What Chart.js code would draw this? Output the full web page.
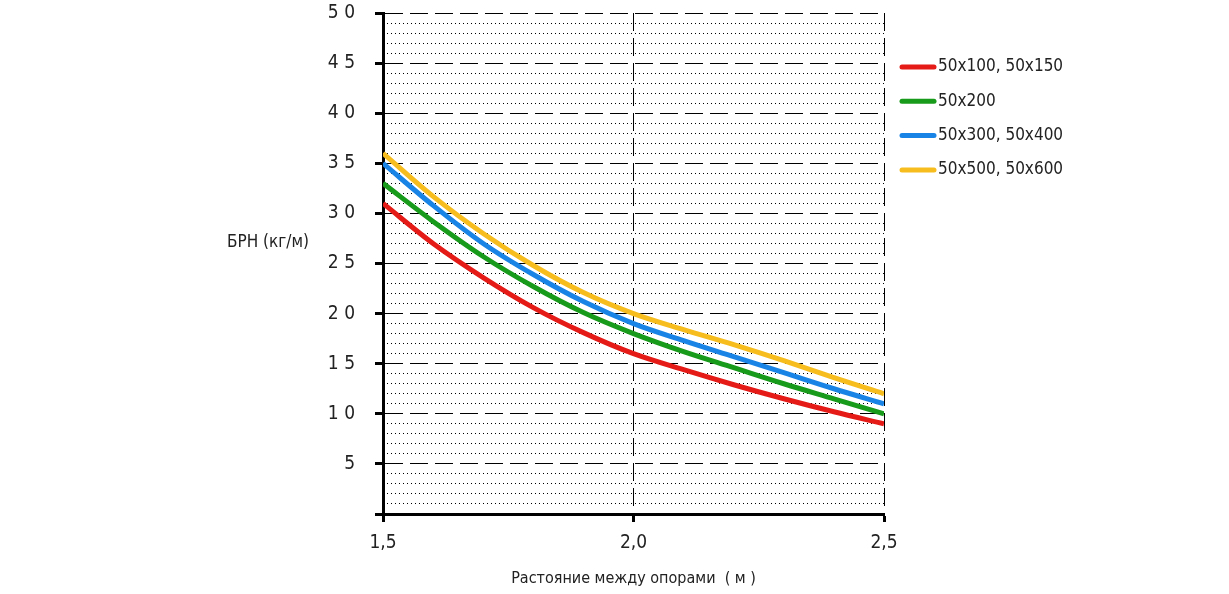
<!DOCTYPE html>
<html>
<head>
<meta charset="utf-8">
<script src="https://cdn.jsdelivr.net/npm/chart.js@4.4.1/dist/chart.umd.min.js"></script>
<style>
  html, body { margin: 0; padding: 0; background: #fff; }
  #wrap { width: 1229px; height: 594px; }
</style>
</head>
<body>
<div id="wrap"><canvas id="chart"></canvas></div>
<script>
// расстояние между опорами, м
const spans = [1.5, 1.6, 1.7, 1.8, 1.9, 2.0, 2.1, 2.2, 2.3, 2.4, 2.5];

// БРН (кг/м) по сечениям
const load50x100 = [31.0, 27.0, 23.6, 20.6, 18.1, 16.0, 14.4, 12.9, 11.5, 10.2, 9.0];
const load50x200 = [33.0, 29.2, 25.7, 22.7, 20.1, 18.0, 16.2, 14.6, 13.0, 11.5, 10.0];
const load50x300 = [35.0, 30.8, 27.0, 23.9, 21.2, 19.0, 17.3, 15.7, 14.1, 12.5, 11.0];
const load50x500 = [36.0, 31.7, 28.0, 24.8, 22.1, 20.0, 18.4, 16.9, 15.3, 13.6, 12.0];

const seriesNames = ['50x100, 50x150', '50x200', '50x300, 50x400', '50x500, 50x600'];
const seriesColors = ['#e41b17', '#189a1a', '#1a84e6', '#f7bd1f'];

const yTickLabels = ['', '5', '1 0', '1 5', '2 0', '2 5', '3 0', '3 5', '4 0', '4 5', '5 0'];
const xTickLabels = ['1,5', '2,0', '2,5'];
const yTitle = 'БРН (кг/м)';
const xTitle = 'Растояние между опорами  ( м )';

const FONT = "'Liberation Sans Narrow', 'DejaVu Sans Condensed', 'Roboto', sans-serif";
const INK = '#222';

const toPoints = arr => arr.map((v, i) => ({ x: spans[i], y: v }));
const allSeries = [load50x100, load50x200, load50x300, load50x500];

// подпись оси Y и легенда справа
const extras = {
    id: 'extras',
    afterDraw(chart) {
        const ctx = chart.ctx;
        const area = chart.chartArea;
        const y = chart.scales.y;
        ctx.save();
        ctx.fillStyle = INK;
        ctx.font = '17px ' + FONT;
        ctx.textAlign = 'center';
        ctx.textBaseline = 'middle';
        ctx.fillText(yTitle, area.left - 115, y.getPixelForValue(27.1));

        ctx.font = '17px ' + FONT;
        ctx.textAlign = 'left';
        chart.data.datasets.forEach((ds, i) => {
            const ly = 67 + i * 34.3;
            const lx = area.right + 18;
            ctx.strokeStyle = ds.borderColor;
            ctx.lineWidth = 5;
            ctx.lineCap = 'round';
            ctx.beginPath();
            ctx.moveTo(lx, ly);
            ctx.lineTo(lx + 32, ly);
            ctx.stroke();
            ctx.fillText(ds.label, lx + 36, ly);
        });
        ctx.restore();
    }
};

new Chart(document.getElementById('chart'), {
    type: 'line',
    data: {
        datasets: allSeries.map((s, i) => ({
            label: seriesNames[i],
            data: toPoints(s),
            borderColor: seriesColors[i],
            backgroundColor: seriesColors[i],
            borderWidth: 5,
            pointRadius: 0,
            cubicInterpolationMode: 'monotone',
            fill: false
        }))
    },
    options: {
        responsive: true,
        maintainAspectRatio: false,
        animation: false,
        layout: { padding: { top: 13, right: 345, bottom: 0, left: 0 } },
        plugins: {
            legend: { display: false },
            tooltip: { enabled: false }
        },
        scales: {
            x: {
                type: 'linear',
                min: 1.5,
                max: 2.5,
                ticks: {
                    stepSize: 0.5,
                    padding: 10,
                    color: INK,
                    font: { family: FONT, size: 19 },
                    callback: (v, i) => xTickLabels[i]
                },
                grid: {
                    color: ctx => ctx.index === 0 ? 'rgba(0,0,0,0)' : '#000',
                    lineWidth: 1,
                    tickColor: '#000',
                    tickWidth: 3,
                    tickLength: 8,
                    tickBorderDash: []
                },
                border: { display: true, color: '#000', width: 3, dash: [18, 7] },
                title: {
                    display: true,
                    text: xTitle,
                    color: INK,
                    font: { family: FONT, size: 16 },
                    padding: { top: 8, bottom: 6 }
                },
                afterFit(scale) { scale.height = 80; }
            },
            y: {
                min: 0,
                max: 50,
                ticks: {
                    stepSize: 5,
                    padding: 20,
                    color: INK,
                    font: { family: FONT, size: 19 },
                    callback: (v, i) => yTickLabels[i]
                },
                grid: {
                    color: ctx => ctx.index === 0 ? 'rgba(0,0,0,0)' : '#000',
                    lineWidth: 1,
                    tickColor: '#000',
                    tickWidth: 3,
                    tickLength: 8,
                    tickBorderDash: []
                },
                border: { display: true, color: '#000', width: 3, dash: [18, 7] },
                afterFit(scale) {
                    scale.width = 383;
                    scale.paddingTop = 0;
                    scale.paddingBottom = 0;
                }
            },
            yMinor: {
                position: 'left',
                min: 0,
                max: 50,
                ticks: { display: false, stepSize: 1 },
                grid: {
                    drawTicks: false,
                    color: ctx => (ctx.tick && ctx.tick.value % 5 === 0) ? 'rgba(0,0,0,0)' : '#000',
                    lineWidth: 1
                },
                border: { display: false, dash: [1, 3] },
                afterFit(scale) {
                    scale.width = 0;
                    scale.paddingTop = 0;
                    scale.paddingBottom = 0;
                }
            }
        }
    },
    plugins: [extras]
});
</script>
</body>
</html>
